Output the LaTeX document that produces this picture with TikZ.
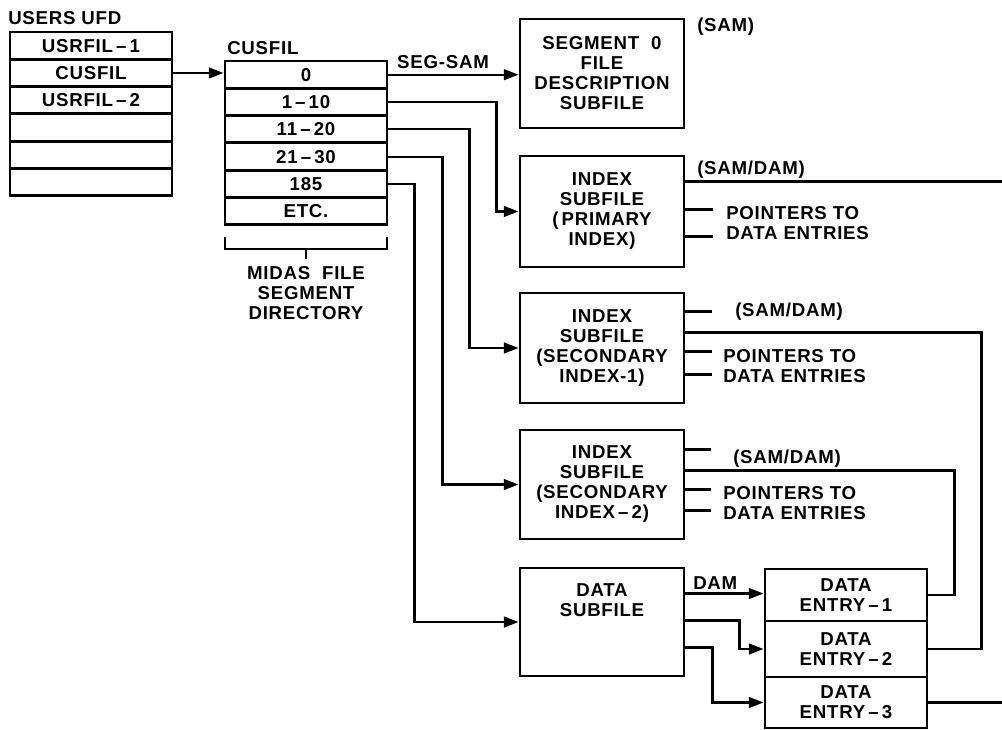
\documentclass[tikz,border=0pt]{standalone}
\usepackage{fontspec}
\setmainfont{Liberation Sans}[LetterSpace=4]
\usetikzlibrary{arrows.meta,calc}
\begin{document}
\begin{tikzpicture}[x=0.75pt,y=-0.75pt,
  every node/.style={font=\fontsize{14pt}{15pt}\selectfont\bfseries},
  box/.style={draw,line width=2.2pt,minimum width=123pt,inner sep=0pt,align=center},
  row/.style={draw,line width=2.2pt,minimum width=121.5pt,minimum height=20.5pt,inner sep=0pt},
  entry/.style={draw,line width=2.2pt,minimum width=121.5pt,inner sep=0pt,align=center},
  arr/.style={line width=1.6pt,-{Triangle[length=11pt,width=8pt]}},
  ln/.style={line width=1.6pt},
  lbl/.style={inner sep=0pt}]
\useasboundingbox (0,0) rectangle (1002,730);

% users UFD
\node[lbl,anchor=west] (ufdl) at (8,18) {USERS UFD};
\node[row] (u1) at (91,45.7) {USRFIL\,–\,1};
\node[row] (u2) at (91,73.0) {CUSFIL};
\node[row] (u3) at (91,100.3) {USRFIL\,–\,2};
\node[row] (u4) at (91,127.6) {};
\node[row] (u5) at (91,154.9) {};
\node[row] (u6) at (91,182.2) {};

% CUSFIL directory
\node[lbl,anchor=west] (cusl) at (227,48) {CUSFIL};
\node[row] (c1) at (306,74.7) {0};
\node[row] (c2) at (306,102.0) {1\,–\,10};
\node[row] (c3) at (306,129.3) {11\,–\,20};
\node[row] (c4) at (306,156.6) {21\,–\,30};
\node[row] (c5) at (306,183.9) {185};
\node[row] (c6) at (306,211.2) {ETC.};
\draw[ln] (225,237) -- (225,249) -- (387,249) -- (387,237);
\draw[ln] (306,249) -- (306,259);
\node[lbl,align=center] (midas) at (306,293) {MIDAS\ \ FILE\\SEGMENT\\DIRECTORY};

% subfiles
\node[box,minimum height=81.75pt] (seg) at (602,73.5) {SEGMENT\ \ 0\\FILE\\DESCRIPTION\\SUBFILE};
\node[box,minimum height=83.25pt] (idx1) at (602,211.5) {INDEX\\SUBFILE\\(\,PRIMARY\\INDEX)};
\node[box,minimum height=82.5pt] (idx2) at (602,348) {INDEX\\SUBFILE\\(SECONDARY\\INDEX-1)};
\node[box,minimum height=81.75pt] (idx3) at (602,484.5) {INDEX\\SUBFILE\\(SECONDARY\\INDEX\,–\,2)};
\node[box,minimum height=81pt] (dsub) at (602,622) {};
\node[lbl,align=center] (dsubt) at (602,600) {DATA\\SUBFILE};

% data entries
\node[entry,minimum height=39pt] (e1) at (846,595) {DATA\\ENTRY\,–\,1};
\node[entry,minimum height=42pt] (e2) at (846,649) {DATA\\ENTRY\,–\,2};
\node[entry,minimum height=38.25pt] (e3) at (846,702.5) {DATA\\ENTRY\,–\,3};

% connectors from directories
\draw[arr] (u2.east) -- (u2.east -| c1.west);
\draw[arr] (c1.east) -- (c1.east -| seg.west);
\node[lbl] (segsam) at (443,62) {SEG-SAM};
\draw[arr] (c2.east) -- ++(108,0) |- (idx1.west);
\draw[arr] (c3.east) -- ++(81,0) |- (idx2.west);
\draw[arr] (c4.east) -- ++(54,0) |- (idx3.west);
\draw[arr] (c5.east) -- ++(26,0) |- (dsub.west);

% labels right of boxes
\node[lbl,anchor=west] (samlbl) at (697,27) {(SAM)};

% index 1
\coordinate (i1o) at ($(idx1.north east)+(0,27)$);
\coordinate (r1) at (1002,183);
\draw[ln] (i1o) -- (i1o -| r1);
\node[lbl,anchor=west] (sd1) at (697,170) {(SAM/DAM)};
\draw[ln] ($(idx1.north east)+(0,55)$) -- ++(28,0);
\draw[ln] ($(idx1.north east)+(0,82)$) -- ++(28,0);
\node[lbl,anchor=west,align=left] (p1) at (726,223) {POINTERS\ TO\\DATA\ ENTRIES};

% index 2
\draw[ln] ($(idx2.north east)+(0,20)$) -- ++(27,0);
\node[lbl,anchor=west] (sd2) at (735,312) {(SAM/DAM)};
\coordinate (i2o) at ($(idx2.north east)+(0,41)$);
\draw[ln] (i2o) -- ++(296,0) |- (e2.east);
\draw[ln] ($(idx2.north east)+(0,60)$) -- ++(27,0);
\draw[ln] ($(idx2.north east)+(0,83)$) -- ++(27,0);
\node[lbl,anchor=west,align=left] (p2) at (723,366) {POINTERS\ TO\\DATA\ ENTRIES};

% index 3
\draw[ln] ($(idx3.north east)+(0,21)$) -- ++(26,0);
\node[lbl,anchor=west] (sd3) at (733,459) {(SAM/DAM)};
\coordinate (i3o) at ($(idx3.north east)+(0,42)$);
\draw[ln] (i3o) -- ++(269,0) |- (e1.east);
\draw[ln] ($(idx3.north east)+(0,61)$) -- ++(26,0);
\draw[ln] ($(idx3.north east)+(0,82)$) -- ++(26,0);
\node[lbl,anchor=west,align=left] (p3) at (723,503) {POINTERS\ TO\\DATA\ ENTRIES};

% data subfile to entries
\coordinate (d1) at ($(dsub.north east)+(0,27)$);
\coordinate (d2) at ($(dsub.north east)+(0,54)$);
\coordinate (d3) at ($(dsub.north east)+(0,81)$);
\node[lbl,anchor=west] (dam) at (693,583) {DAM};
\draw[arr] (d1) -- (d1 -| e1.west);
\draw[arr] (d2) -- ++(54,0) |- (e2.west);
\draw[arr] (d3) -- ++(27,0) |- (e3.west);
\coordinate (r3) at (1002,702.5);
\draw[ln] (e3.east) -- (e3.east -| r3);
\end{tikzpicture}
\end{document}
